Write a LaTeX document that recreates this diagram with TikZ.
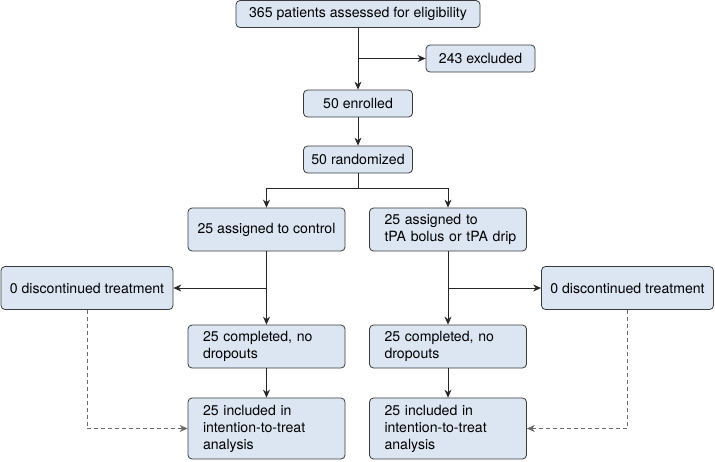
\documentclass[tikz,border=0pt]{standalone}
\usepackage{fontspec}
\setmainfont{TeX Gyre Heros}
\usetikzlibrary{arrows.meta}
\definecolor{boxblue}{HTML}{DCE6F2}
\definecolor{boxline}{HTML}{3A3A3A}
\definecolor{dashgray}{HTML}{6A6A6A}
\tikzset{
  box/.style={draw=boxline, fill=boxblue, rounded corners=4pt, line width=0.8pt,
    font=\fontsize{14.1}{17}\selectfont, inner sep=0pt, minimum height=27pt},
  boxleft/.style={box, minimum width=157pt, inner xsep=15pt, text width=127pt, align=left},
  flow/.style={-{Stealth[length=8pt,width=7pt]}, line width=0.8pt, draw=black!85},
  dropline/.style={flow, draw=dashgray, dash pattern=on 4pt off 3pt}
}
\begin{document}
\begin{tikzpicture}[x=1pt,y=-1pt]
\useasboundingbox (0,0) rectangle (715,461);
% enrolment
\node[box, minimum width=244pt] (assess) at (358,14) {365 patients assessed for eligibility};
\node[box, minimum width=109pt] (excl) at (480.5,58.5) {243 excluded};
\node[box, minimum width=109pt] (enrol) at (358,103.5) {50 enrolled};
\node[box, minimum width=109pt] (rand) at (358,159.5) {50 randomized};
% allocation
\node[box, minimum width=157pt, minimum height=43pt] (ctrl) at (266.5,229.5) {25 assigned to control};
\node[boxleft, minimum height=43pt] (tpa) at (448,229.5) {25 assigned to\\\mbox{tPA bolus or tPA drip}};
% follow-up
\node[box, minimum width=172pt, minimum height=43pt] (discL) at (87,288) {0 discontinued treatment};
\node[box, minimum width=172pt, minimum height=43pt] (discR) at (627.5,288) {0 discontinued treatment};
\node[boxleft, minimum height=43pt] (compL) at (266.5,346.5) {25 completed, no\\dropouts};
\node[boxleft, minimum height=43pt] (compR) at (448,346.5) {25 completed, no\\dropouts};
% analysis
\node[boxleft, minimum height=61pt] (ittL) at (266.5,428.5) {25 included in\\intention-to-treat\\analysis};
\node[boxleft, minimum height=61pt] (ittR) at (448,428.5) {25 included in\\intention-to-treat\\analysis};

\coordinate (jexcl) at (assess.south |- excl.west);
\coordinate (split) at (358,188);
\coordinate (jL) at (ctrl.south |- discL.east);
\coordinate (jR) at (tpa.south |- discR.west);

\draw[flow] (assess) -- (enrol);
\draw[flow] (jexcl) -- (excl);
\draw[flow] (enrol) -- (rand);
\draw[line width=0.8pt, draw=black!85] (rand) -- (split);
\draw[flow] (split) -| (ctrl);
\draw[flow] (split) -| (tpa);
\draw[flow] (ctrl) -- (compL);
\draw[flow] (tpa) -- (compR);
\draw[flow] (jL) -- (discL);
\draw[flow] (jR) -- (discR);
\draw[flow] (compL) -- (ittL);
\draw[flow] (compR) -- (ittR);
\draw[dropline] (discL) |- (ittL);
\draw[dropline] (discR) |- (ittR);
\end{tikzpicture}
\end{document}
